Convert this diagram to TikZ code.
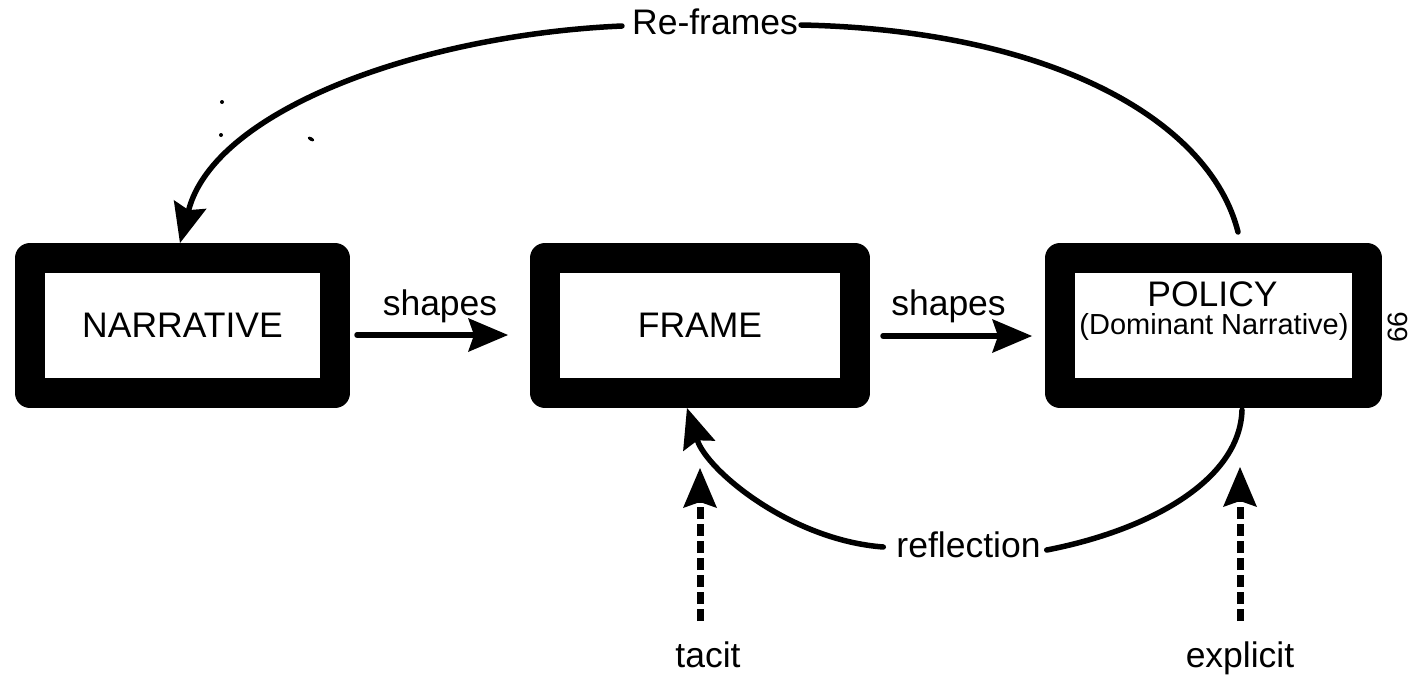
\documentclass[tikz,border=0pt]{standalone}
\usepackage{fontspec}
\setmainfont{Liberation Sans}
\usetikzlibrary{arrows.meta,calc}
\begin{document}
\begin{tikzpicture}[x=1pt,y=-1pt,
  box/.style={draw=black, line width=30pt, line join=round, fill=white,
    minimum height=135pt, inner sep=0pt, font=\fontsize{35.5}{40}\selectfont},
  lbl/.style={font=\fontsize{35.5}{40}\selectfont, inner sep=0pt, anchor=base},
  head/.style={-{Stealth[length=40pt,width=34pt,inset=6pt,line width=0pt]}},
  link/.style={line width=5.5pt, line cap=round, head},
  curve/.style={line width=5.5pt, line cap=round},
  hint/.style={line width=7pt, dash pattern=on 12pt off 5pt, head}
]
\fill[white] (0,0) rectangle (1413,677);
\useasboundingbox (0,0) rectangle (1413,677);

% the three stages
\node[box, minimum width=305pt] (narrative) at (182.5,325.5) {NARRATIVE};
\node[box, minimum width=310pt] (frame) at (700,325.5) {FRAME};
\node[box, minimum width=307pt] (policy) at (1213.5,325.5) {};
\node[lbl] (policy-title) at (1212.5,306) {POLICY};
\node[lbl, font=\fontsize{29}{32}\selectfont] (policy-sub) at (1214,334) {(Dominant Narrative)};

% forward links
\node[lbl] (shapes-a) at (440,315) {shapes};
\node[lbl] (shapes-b) at (948.5,315) {shapes};
\draw[link, shorten <=7pt, shorten >=22pt]
  ([yshift=-9.5pt]narrative.east) -- ([yshift=-9.5pt]frame.west);
\draw[link, shorten <=13pt, shorten >=13pt]
  ([yshift=-10.5pt]frame.east) -- ([yshift=-10.5pt]policy.west);

% re-framing loop over the top
\node[lbl] (reframes) at (715,35) {Re-frames};
\coordinate (rf-w) at ($(reframes.base west)+(-10,-9)$);
\coordinate (rf-e) at ($(reframes.base east)+(3,-10)$);
\draw[curve] ($(policy.north)+(24.5,-11)$) .. controls (1210,120) and (1050,30) .. (rf-e);
\draw[link] (rf-w) .. controls (420,35) and (215,110) .. ($(narrative.north)+(-2.5,0)$);

% reflection loop underneath
\node[lbl] (reflection) at (968.5,557) {reflection};
\coordinate (rl-w) at ($(reflection.base west)+(-13,-10)$);
\coordinate (rl-e) at ($(reflection.base east)+(6,-7)$);
\draw[curve] ($(policy.south)+(28.5,2)$) .. controls (1240,480) and (1150,530) .. (rl-e);
\draw[link] (rl-w) .. controls (790,540) and (707,470) .. ($(frame.south)+(-13,0)$);

% tacit and explicit inputs
\node[lbl] (tacit) at (708,667) {tacit};
\node[lbl] (explicit) at (1240,667) {explicit};
\coordinate (tacit-tip) at ($(frame.south)+(0,60)$);
\coordinate (explicit-tip) at ($(policy.south)+(26.5,59)$);
\draw[hint, shorten <=20pt] (tacit-tip |- tacit.north) -- (tacit-tip);
\draw[hint, shorten <=20pt] (explicit-tip |- explicit.north) -- (explicit-tip);

% page number in the margin
\node[font=\fontsize{28}{28}\selectfont, rotate=90, inner sep=0pt] (pageno) at (1398,327) {66};

% small specks
\fill (222,102) circle (2pt);
\fill (221,135) circle (2pt);
\fill[rotate around={-30:(311,139)}] (311,139) ellipse (3.5pt and 1.8pt);
\end{tikzpicture}
\end{document}
